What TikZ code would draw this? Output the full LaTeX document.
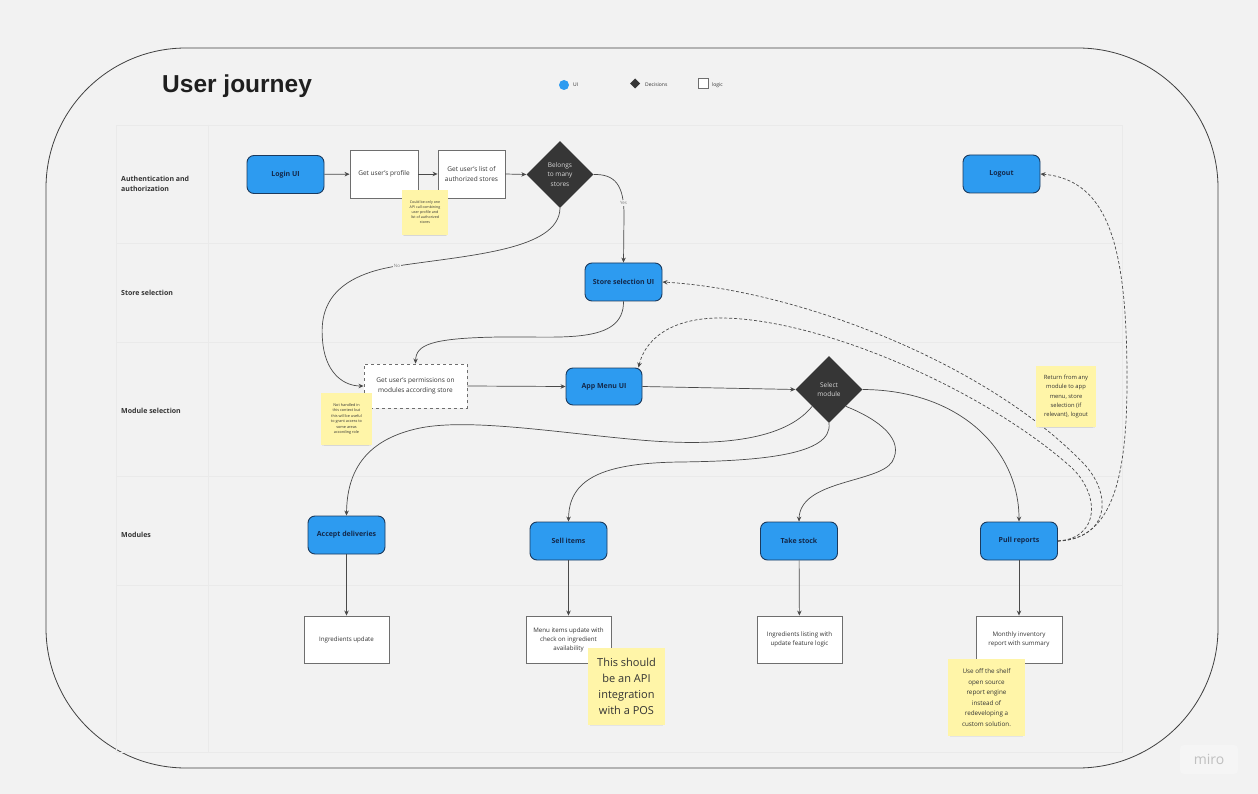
\documentclass[tikz,border=0pt]{standalone}
\usepackage{fontspec}
\setmainfont{Open Sans}
\newfontfamily\titlefont{Liberation Sans}
\usetikzlibrary{shapes.geometric,arrows.meta,shadows}
\definecolor{bg}{HTML}{F2F2F2}
\definecolor{lane}{HTML}{EAEAEA}
\definecolor{uiblue}{HTML}{2D9BF0}
\definecolor{uiborder}{HTML}{1B3A5E}
\definecolor{uitext}{HTML}{13294B}
\definecolor{decfill}{HTML}{363636}
\definecolor{notey}{HTML}{FFF5A8}
\definecolor{linec}{HTML}{4A4A4A}
\definecolor{boxborder}{HTML}{6E6E6E}
\definecolor{txt}{HTML}{333333}
\tikzset{
 ui/.style={draw=uiborder, line width=0.9pt, fill=uiblue, rounded corners=7pt, minimum width=77pt, minimum height=38pt, inner sep=0pt, font=\fontsize{7}{8.5}\selectfont\bfseries, text=uitext, align=center},
 logic/.style={draw=boxborder, line width=0.9pt, fill=white, minimum width=68pt, minimum height=48pt, inner sep=0pt, font=\fontsize{6.5}{9.5}\selectfont, text=txt, align=center},
 decision/.style={diamond, fill=decfill, minimum width=67pt, minimum height=67pt, inner sep=0pt, aspect=1, font=\fontsize{6.5}{9.5}\selectfont, text=white!85!black, align=center},
 note/.style={fill=notey, inner sep=0pt, align=center, text=txt,
   drop shadow={opacity=0.12, shadow xshift=0pt, shadow yshift=-2.5pt, shadow scale=0.96},
   drop shadow={opacity=0.12, shadow xshift=0pt, shadow yshift=-4pt, shadow scale=0.9}},
 lanelabel/.style={anchor=west, font=\fontsize{7}{10}\selectfont\bfseries, text=txt, align=left, inner sep=0pt},
 legtext/.style={anchor=west, font=\fontsize{5}{6}\selectfont, text=txt, inner sep=0pt},
 conn/.style={draw=linec, line width=0.7pt, -{Stealth[length=5pt,width=4.5pt]}},
 dconn/.style={conn, dash pattern=on 3pt off 2pt},
 elabel/.style={font=\fontsize{4.5}{5}\selectfont, text=gray, fill=bg, inner sep=1pt},
}
\begin{document}
\begin{tikzpicture}[x=1pt,y=-1pt]
\useasboundingbox (0,0) rectangle (1258,794);
\fill[bg] (0,0) rectangle (1258,794);
% outer frame
\draw[black!75, line width=0.8pt, rounded corners=140pt] (46,48) rectangle (1218,768);
% lanes
\draw[lane, line width=0.5pt] (116,125) rectangle (1122,752);
\draw[lane, line width=0.5pt] (208,125) -- (208,752);
\foreach \yy in {243,342,476,585} \draw[lane, line width=0.5pt] (116,\yy) -- (1122,\yy);
\node[lanelabel] (l1) at (121,184) {Authentication and\\authorization};
\node[lanelabel] (l2) at (121,293) {Store selection};
\node[lanelabel] (l3) at (121,411) {Module selection};
\node[lanelabel] (l4) at (121,535) {Modules};
% title and legend
\node[anchor=west, inner sep=0pt, font=\titlefont\fontsize{24.5}{28}\selectfont\bfseries, text=black!88] (title) at (162,86) {User journey};
\fill[uiblue] (564,85) circle (5);
\node[legtext] (lgui) at (573,85) {UI};
\fill[decfill] (635,78.5) -- (640,83.5) -- (635,88.5) -- (630,83.5) -- cycle;
\node[legtext] (lgdec) at (645,85) {Decisions};
\draw[boxborder, line width=0.8pt, fill=white] (698.5,78.5) rectangle (708,88);
\node[legtext] (lglog) at (712,85) {logic};
% miro mark
\node[fill=white!25!bg, rounded corners=4pt, minimum width=58pt, minimum height=29pt, inner sep=0pt, font=\fontsize{14}{15}\selectfont, text=black!25] (miro) at (1209,759.5) {miro};
% nodes
\node[ui] (login) at (285.5,174.5) {Login UI};
\node[logic] (profile) at (384,174) {Get user's profile};
\node[logic, minimum width=67pt] (stores) at (471.5,174) {Get user's list of\\authorized stores};
\node[decision] (belongs) at (560,174.5) {Belongs\\to many\\stores};
\node[ui] (logout) at (1001.5,174) {Logout};
\node[ui] (storesel) at (623.5,282) {Store selection UI};
\node[logic, dashed, minimum width=103pt, minimum height=44pt] (perm) at (415.5,386) {Get user's permissions on\\modules according store};
\node[ui, minimum width=76pt, minimum height=37pt] (appmenu) at (604,386.5) {App Menu UI};
\node[decision] (select) at (829,389.5) {Select\\module};
\node[ui] (accept) at (346.5,535) {Accept deliveries};
\node[ui] (sell) at (568.5,541) {Sell items};
\node[ui] (take) at (799,541) {Take stock};
\node[ui] (pull) at (1019,541) {Pull reports};
\node[logic, minimum width=85pt, minimum height=47pt, font=\fontsize{6.2}{9}\selectfont] (ingupd) at (346.5,639.5) {Ingredients update};
\node[logic, minimum width=85pt, minimum height=47pt, font=\fontsize{6.2}{9}\selectfont] (menuupd) at (568.5,639.5) {Menu items update with\\check on ingredient\\availability};
\node[logic, minimum width=85pt, minimum height=47pt, font=\fontsize{6.2}{9}\selectfont] (inglist) at (799.5,639.5) {Ingredients listing with\\update feature logic};
\node[logic, minimum width=86pt, minimum height=47pt, font=\fontsize{6.2}{9}\selectfont] (monthly) at (1019,639.5) {Monthly inventory\\report with summary};
% connectors
\draw[conn] (login) -- (profile);
\draw[conn] (profile) -- (stores);
\draw[conn] (stores.east) -- (belongs.west);
\draw[conn] (belongs.east) .. controls (615,174) and (624,185) .. (624,215) -- (storesel.north);
\node[elabel] (yes) at (623.5,203) {Yes};
\draw[conn] (belongs.south) .. controls (559,250) and (470,255) .. (397,266) .. controls (320,278) and (320,320) .. (323,345) .. controls (327,375) and (345,386) .. (perm.west);
\node[elabel] (no) at (397,266) {No};
\draw[conn] (storesel.south) .. controls (624,345) and (560,336) .. (500,337) .. controls (430,338) and (416,345) .. (perm.north);
\draw[conn] (perm.east) -- (appmenu.west);
\draw[conn] (appmenu.east) -- (select.west);
\draw[conn] (select.south west) .. controls (785,440) and (720,447) .. (640,440) .. controls (560,433) and (470,418) .. (420,428) .. controls (362,440) and (347,475) .. (accept.north);
\draw[conn] (select.south) .. controls (833,455) and (760,461) .. (680,462) .. controls (600,463) and (569,480) .. (sell.north);
\draw[conn] (select.south east) .. controls (880,420) and (905,440) .. (892,462) .. controls (878,483) and (800,480) .. (take.north);
\draw[conn] (select.east) .. controls (960,390) and (1019,450) .. (pull.north);
\draw[conn] (accept) -- (ingupd);
\draw[conn] (sell) -- (menuupd);
\draw[conn] (take) -- (inglist);
\draw[conn] (pull) -- (monthly);
\draw[dconn] (pull.east) .. controls (1115,540) and (1127,470) .. (1127,380) .. controls (1127,250) and (1110,180) .. (logout.east);
\draw[dconn] (pull.east) .. controls (1110,538) and (1112,495) .. (1085,465) .. controls (990,365) and (800,290) .. (storesel.east);
\draw[dconn] (pull.east) .. controls (1100,538) and (1100,495) .. (1072,468) .. controls (985,390) and (820,318) .. (720,318) .. controls (670,318) and (645,340) .. ([xshift=-4pt]appmenu.north east);
% sticky notes
\node[note, minimum width=46pt, minimum height=45pt, font=\fontsize{3.6}{5}\selectfont] (n1) at (425,212.5) {Could be only one\\API call combining\\user profile and\\list of authorized\\stores};
\node[note, minimum width=51pt, minimum height=52pt, font=\fontsize{3.8}{5.5}\selectfont] (n2) at (346.5,419) {Not handled in\\this context but\\this will be useful\\to grant access to\\some areas\\according role};
\node[note, minimum width=60pt, minimum height=61pt, font=\fontsize{5.8}{9.3}\selectfont] (n3) at (1066,396.5) {Return from any\\module to app\\menu, store\\selection (if\\relevant), logout};
\node[note, minimum width=77pt, minimum height=77pt, font=\fontsize{11}{16}\selectfont] (n4) at (626.5,686.5) {This should\\be an API\\integration\\with a POS};
\node[note, minimum width=77pt, minimum height=77pt, font=\fontsize{6.3}{10.5}\selectfont] (n5) at (986.5,697.5) {Use off the shelf\\open source\\report engine\\instead of\\redeveloping a\\custom solution.};
\end{tikzpicture}
\end{document}
